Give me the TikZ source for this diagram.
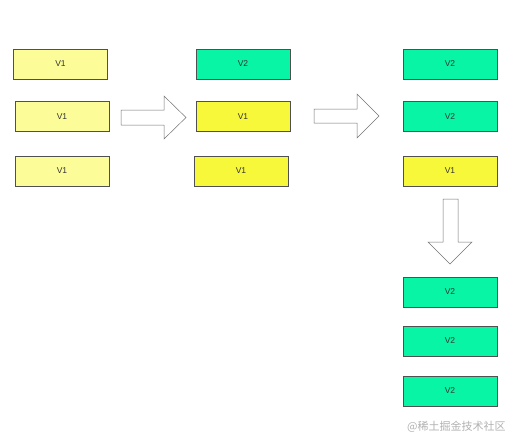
\documentclass[tikz,border=0pt]{standalone}
\usepackage{fontspec}
\setmainfont{Liberation Sans}
\newfontfamily\cjk{Noto Sans CJK SC}
\definecolor{paleY}{HTML}{FCFC98}
\definecolor{brightY}{HTML}{F8F83A}
\definecolor{mint}{HTML}{08F5A6}
\definecolor{edge}{HTML}{505050}
\definecolor{txt}{HTML}{333333}
\begin{document}
\begin{tikzpicture}[x=1pt,y=-1pt,
  vbox/.style={draw=edge,line width=0.6pt,minimum width=94pt,minimum height=30pt,inner sep=0pt,font=\fontsize{8.5}{10}\selectfont,text=txt},
  pale/.style={vbox,fill=paleY},
  bright/.style={vbox,fill=brightY},
  green/.style={vbox,fill=mint},
  bigarrow/.style={draw=gray!90!black,fill=white,line width=0.5pt,line join=miter}]
\useasboundingbox (0,0) rectangle (520,447);
\fill[white] (0,0) rectangle (520,447);
% column 1
\node[pale] (a1) at (60.5,64) {V1};
\node[pale] (a2) at (62,116.5) {V1};
\node[pale] (a3) at (62,171) {V1};
% column 2
\node[green] (b1) at (243,64) {V2};
\node[bright] (b2) at (243,116.5) {V1};
\node[bright] (b3) at (241,171) {V1};
% column 3
\node[green] (c1) at (450,64) {V2};
\node[green] (c2) at (450,116.5) {V2};
\node[bright] (c3) at (450,171) {V1};
% column 3 result
\node[green] (d1) at (450,292) {V2};
\node[green] (d2) at (450,341) {V2};
\node[green] (d3) at (450,391) {V2};
% arrows
\draw[bigarrow] (121,110) -- (164,110) -- (164,96) -- (186,117.5) -- (164,139) -- (164,125) -- (121,125) -- cycle;
\draw[bigarrow] (314,109) -- (357,109) -- (357,94) -- (379,116) -- (357,138) -- (357,123) -- (314,123) -- cycle;
\draw[bigarrow] (443,199) -- (458,199) -- (458,242) -- (472,242) -- (450,264) -- (428,242) -- (443,242) -- cycle;
% watermark
\node[anchor=west,text=gray!60,font=\cjk\fontsize{11}{13}\selectfont,inner sep=0pt] (wm) at (407,426.5) {@稀土掘金技术社区};
\end{tikzpicture}
\end{document}
